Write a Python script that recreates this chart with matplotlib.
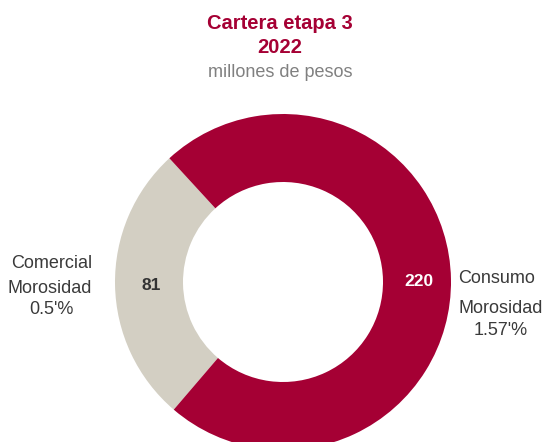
import numpy as np
import matplotlib.pyplot as plt

plt.rcParams['font.family'] = ['Liberation Sans', 'DejaVu Sans']

# Cartera etapa 3, 2022 (millones de pesos)
segmentos = ['Comercial', 'Consumo']
saldos = [81, 220]
morosidad = ['0.5\'%', '1.57\'%']
colores = ['#D3CFC3', '#A50034']

rojo = '#A50034'
gris_texto = '#3A3A3A'

fig = plt.figure(figsize=(5.46, 4.42), dpi=100)
ax = fig.add_axes([0, 0, 1, 1])

centro = (283, 160)
r_ext = 168
ancho = 68

# Comercial centred on the left side
inicio = 181 - saldos[0] / sum(saldos) * 360 / 2
wedges, _ = ax.pie(saldos, colors=colores, startangle=inicio, counterclock=True,
                   radius=r_ext, center=centro, frame=True,
                   wedgeprops=dict(width=ancho, edgecolor='none'))
ax.set_xlim(0, 546)
ax.set_ylim(0, 442)
ax.set_aspect('equal')
ax.axis('off')

# value labels in the middle of each ring segment
r_mid = r_ext - ancho / 2
for w, v, c in zip(wedges, saldos, ['#333333', 'white']):
    ang = np.deg2rad((w.theta1 + w.theta2) / 2)
    x = centro[0] + r_mid * np.cos(ang)
    y = centro[1] + r_mid * np.sin(ang)
    ax.text(x + 2, y - 6, str(v), ha='center', va='baseline', fontsize=12.5,
            fontweight='bold', color=c)

# side labels
ax.text(52, 174, segmentos[0], ha='center', va='baseline', fontsize=13, color=gris_texto)
ax.text(50, 149, 'Morosidad', ha='center', va='baseline', fontsize=13, color=gris_texto)
ax.text(51, 128, morosidad[0], ha='center', va='baseline', fontsize=13, color=gris_texto)

ax.text(458, 159, segmentos[1], ha='left', va='baseline', fontsize=13, color=gris_texto)
ax.text(501, 129, 'Morosidad', ha='center', va='baseline', fontsize=13, color=gris_texto)
ax.text(501, 107, morosidad[1], ha='center', va='baseline', fontsize=13, color=gris_texto)

# title block
ax.text(280, 413, 'Cartera etapa 3', ha='center', va='baseline', fontsize=14.5,
        fontweight='bold', color=rojo)
ax.text(280, 389, '2022', ha='center', va='baseline', fontsize=14.5,
        fontweight='bold', color=rojo)
ax.text(280, 365, 'millones de pesos', ha='center', va='baseline', fontsize=13,
        color='#808080')

fig.savefig('out.png', dpi=100)
